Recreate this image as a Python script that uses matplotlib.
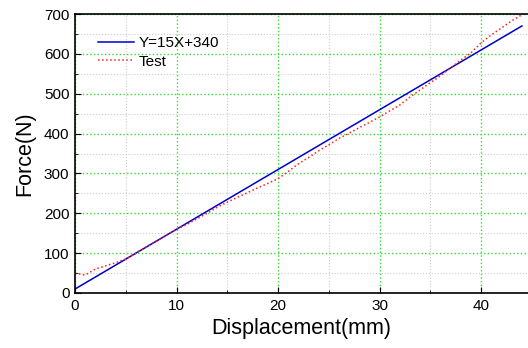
import matplotlib

matplotlib.use("Agg")
import matplotlib.pyplot as plt
from matplotlib.ticker import MultipleLocator

plt.rcParams.update({"font.family": ["Liberation Sans", "DejaVu Sans"]})

# fitted line
fit_x = [0, 44]
fit_y = [10, 670]

# test curve
test_x = list(range(0, 45))
test_y = [50, 45, 60, 68, 76, 85, 100, 115, 130, 145, 160, 172, 186, 200, 215,
          228, 240, 252, 264, 275, 287, 305, 324, 340, 357, 372, 388, 401, 415,
          428, 442, 457, 472, 492, 510, 528, 545, 565, 585, 603, 628, 648, 665,
          683, 698]

fig = plt.figure(figsize=(5.28, 3.48), dpi=100)
ax = fig.add_axes([75 / 528, 1 - 293 / 348, 453 / 528, 279 / 348])

ax.plot(fit_x, fit_y, "-", color="#0000cc", linewidth=1.1, label="Y=15X+340")
ax.plot(test_x, test_y, ":", color="#ff2020", linewidth=1.1, label="Test")

ax.set_xlim(0, 44.6)
ax.set_ylim(0, 700)
ax.xaxis.set_major_locator(MultipleLocator(10))
ax.xaxis.set_minor_locator(MultipleLocator(5))
ax.yaxis.set_major_locator(MultipleLocator(100))
ax.yaxis.set_minor_locator(MultipleLocator(50))
ax.grid(True, which="major", color="#33dd33", linestyle=":", linewidth=1.0)
ax.grid(True, which="minor", color="#cccccc", linestyle=":", linewidth=0.8)
ax.set_axisbelow(True)
ax.tick_params(which="major", direction="in", length=4, labelsize=11, pad=4)
ax.tick_params(which="minor", direction="in", length=2)
ax.spines["right"].set_visible(False)
for s in ("left", "bottom", "top"):
    ax.spines[s].set_linewidth(1.2)

ax.set_xlabel("Displacement(mm)", fontsize=15.5, labelpad=4)
ax.set_ylabel("Force(N)", fontsize=15.5, labelpad=6)
ax.legend(loc="upper left", bbox_to_anchor=(0.02, 0.97), frameon=False,
          fontsize=11, handlelength=2.4, handletextpad=0.3, labelspacing=0.3)

fig.savefig("out.png", dpi=100)
